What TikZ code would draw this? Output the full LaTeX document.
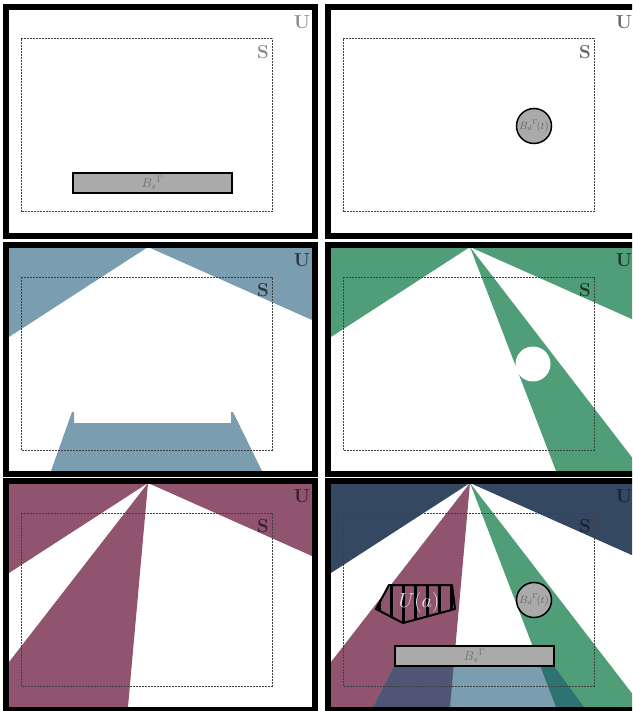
\documentclass[tikz,border=0pt]{standalone}
\usepackage{amsmath}

\definecolor{skyblue}{HTML}{7A9EAF}
\definecolor{leafgreen}{HTML}{4F9E78}
\definecolor{plum}{HTML}{91546F}
\definecolor{nightblue}{HTML}{344862}
\definecolor{plumblue}{HTML}{4F5575}
\definecolor{deepteal}{HTML}{2E7272}
\definecolor{boxgray}{HTML}{AAAAAA}

\tikzset{
  panelframe/.style={draw=black, line width=0.17cm},
  setline/.style={draw=black!75, line width=0.03cm, dash pattern=on 0.06cm off 0.03cm},
  ulabel/.style={font=\fontsize{16}{16}\selectfont\bfseries, inner sep=0pt},
  bsbox/.style={draw=black, line width=0.06cm, fill=boxgray, minimum width=4.77cm,
    minimum height=0.6cm, inner sep=0pt, text=black!55, font=\fontsize{11}{11}\selectfont},
  bdball/.style={circle, draw=black, line width=0.045cm, fill=boxgray, minimum size=1.05cm,
    inner sep=0pt, text=black!60, font=\fontsize{8.6}{9}\selectfont},
}

% the region seen above the horizon lines
\newcommand{\panelsky}[1]{\fill[#1] (145,5) -- (6,95) -- (6,6) -- (309,6) -- (309,78) -- cycle;}
% dashed set, labels and frame of one panel
\newcommand{\panelmarks}[2]{%
  \draw[setline] (18,35) rectangle (269,208);
  \node[ulabel, text=#1] (#2u) at (299,18) {U};
  \node[ulabel, text=#1] (#2s) at (260,48) {S};
  \draw[panelframe] (3,3) rectangle (312,232);
}

\begin{document}
\begin{tikzpicture}[x=0.03cm,y=-0.03cm]
  \useasboundingbox (0,0) rectangle (632,711);
  \clip (0,0) rectangle (632,711);
  \fill[white] (0,0) rectangle (632,711);

  % top left: static obstacle
  \begin{scope}[shift={(3,4)}]
    \node[bsbox] (bs1) at (149.5,179) {$B_s{}^\Gamma$};
    \panelmarks{black!45}{p1}
  \end{scope}

  % top right: dynamic obstacle
  \begin{scope}[shift={(325,4)}]
    \node[bdball] (bd2) at (209,122) {$B_d{}^\Gamma\!(t)$};
    \panelmarks{black!60}{p2}
  \end{scope}

  % middle left
  \begin{scope}[shift={(3,242)}]
    \begin{scope}
      \clip (6,6) rectangle (309,229);
      \panelsky{skyblue}
      \fill[skyblue] (48,229) -- (69,170) -- (71,170) -- (71,181) -- (228,181)
        -- (228,170) -- (230,170) -- (259,229) -- cycle;
    \end{scope}
    \panelmarks{skyblue!35!black}{p3}
  \end{scope}

  % middle right
  \begin{scope}[shift={(325,242)}]
    \begin{scope}
      \clip (6,6) rectangle (309,229);
      \panelsky{leafgreen}
      \fill[leafgreen] (145,5) -- (231,229) -- (309,229) -- (309,218) -- cycle;
      \fill[white] (208,122) circle (17.5);
    \end{scope}
    \panelmarks{leafgreen!35!black}{p4}
  \end{scope}

  % bottom left
  \begin{scope}[shift={(3,478)}]
    \begin{scope}
      \clip (6,6) rectangle (309,229);
      \panelsky{plum}
      \fill[plum] (145,5) -- (6,184) -- (6,229) -- (125,229) -- cycle;
    \end{scope}
    \panelmarks{plum!40!black}{p5}
  \end{scope}

  % bottom right: all together
  \begin{scope}[shift={(325,478)}]
    \begin{scope}
      \clip (6,6) rectangle (309,229);
      \panelsky{nightblue}
      \fill[plum] (145,5) -- (6,184) -- (6,229) -- (125,229) -- cycle;
      \fill[leafgreen] (145,5) -- (231,229) -- (309,229) -- (309,218) -- cycle;
      \fill[skyblue] (69,188) -- (48,229) -- (259,229) -- (229,188) -- cycle;
      \clip (69,188) -- (48,229) -- (259,229) -- (229,188) -- cycle;
      \fill[plumblue] (145,5) -- (6,184) -- (6,229) -- (125,229) -- cycle;
      \fill[deepteal] (145,5) -- (231,229) -- (309,229) -- (309,218) -- cycle;
    \end{scope}
    \begin{scope}
      \clip (64,107) -- (127,107) -- (130,131) -- (78,145) -- (51,131) -- cycle;
      \foreach \hx in {54,66,...,126}
        \draw[line width=0.09cm] (\hx,100) -- (\hx,150);
    \end{scope}
    \draw[line width=0.06cm, line join=round]
      (64,107) -- (127,107) -- (130,131) -- (78,145) -- (51,131) -- cycle;
    \node[text=white!88!plum, font=\fontsize{19}{19}\selectfont, inner sep=0pt] (ua) at (94,124) {$U(a)$};
    \node[bdball] (bd6) at (209,122) {$B_d{}^\Gamma\!(t)$};
    \node[bsbox] (bs6) at (149.5,178) {$B_s{}^\Gamma$};
    \panelmarks{nightblue!50!black}{p6}
  \end{scope}
\end{tikzpicture}
\end{document}
